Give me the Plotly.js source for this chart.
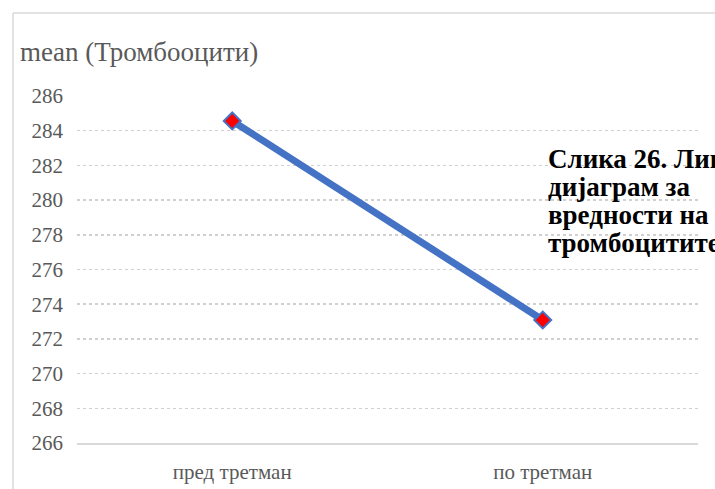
<!DOCTYPE html>
<html>
<head>
<meta charset="utf-8">
<script src="https://cdn.plot.ly/plotly-3.0.1.min.js"></script>
<style>
  html, body { margin: 0; padding: 0; background: #ffffff; }
  #chart { width: 715px; height: 489px; }
</style>
</head>
<body>
<div id="chart"></div>
<script>
// Mean platelet count before and after treatment
const categories = ["пред третман", "по третман"];
const meanValues = [284.56, 273.09];
const yTicks = [266, 268, 270, 272, 274, 276, 278, 280, 282, 284, 286];
const chartTitle = "mean (Тромбооцити)";
const captionLines = ["Слика 26. Линиски", "дијаграм за", "вредности на", "тромбоцитите"];

const serif = "Liberation Serif";
const frameColor = "#d9d9d9";

// plot area in pixels (used to place frame and caption in paper units)
const plotLeft = 77, plotRight = 698, plotTop = 96, plotBottom = 443;
const plotW = plotRight - plotLeft, plotH = plotBottom - plotTop;
const px2x = (px) => (px - plotLeft) / plotW;
const px2y = (py) => (plotBottom - py) / plotH;

const trace = {
  x: categories,
  y: meanValues,
  type: "scatter",
  mode: "lines+markers",
  line: { color: "#4472c4", width: 7 },
  marker: {
    symbol: "diamond",
    size: 13,
    color: "#ff0000",
    line: { color: "#4472c4", width: 2 }
  },
  hoverinfo: "x+y",
  showlegend: false
};

// caption set beside the chart, one line per annotation for tight leading
const captionAnnotations = captionLines.map((line, i) => ({
  text: "<b>" + line + "</b>",
  xref: "paper", yref: "paper",
  x: px2x(546), y: px2y(159 + i * 28),
  xanchor: "left", yanchor: "middle",
  align: "left",
  showarrow: false,
  font: { family: serif, size: 27, color: "#000000" }
}));

const layout = {
  width: 715,
  height: 489,
  margin: { l: plotLeft, r: 715 - plotRight, t: plotTop, b: 489 - plotBottom },
  paper_bgcolor: "#ffffff",
  plot_bgcolor: "#ffffff",
  font: { family: serif, color: "#595959" },
  title: {
    text: chartTitle,
    font: { family: serif, size: 27, color: "#595959" },
    x: 20 / 715,
    xanchor: "left",
    xref: "container",
    y: 1 - 52 / 489,
    yref: "container",
    yanchor: "middle"
  },
  xaxis: {
    type: "category",
    range: [-0.5, 1.5],
    showgrid: false,
    zeroline: false,
    showline: true,
    linecolor: frameColor,
    linewidth: 1.5,
    ticks: "",
    ticklabelstandoff: 9,
    tickfont: { family: serif, size: 21, color: "#595959" },
    fixedrange: true
  },
  yaxis: {
    range: [266, 286],
    tickvals: yTicks,
    ticktext: yTicks.map(String),
    showgrid: true,
    gridcolor: "#d0d0d0",
    griddash: "dot",
    gridwidth: 1.5,
    zeroline: false,
    showline: false,
    ticks: "",
    ticklabelstandoff: 13,
    tickfont: { family: serif, size: 21, color: "#595959" },
    fixedrange: true
  },
  shapes: [
    // outer chart frame (left and top edges)
    { type: "line", xref: "paper", yref: "paper",
      x0: px2x(13), x1: px2x(13), y0: px2y(500), y1: px2y(13),
      line: { color: frameColor, width: 1.5 } },
    { type: "line", xref: "paper", yref: "paper",
      x0: px2x(13), x1: px2x(730), y0: px2y(13), y1: px2y(13),
      line: { color: frameColor, width: 1.5 } }
  ],
  annotations: captionAnnotations
};

Plotly.newPlot("chart", [trace], layout, { displayModeBar: false, staticPlot: true });
</script>
</body>
</html>
